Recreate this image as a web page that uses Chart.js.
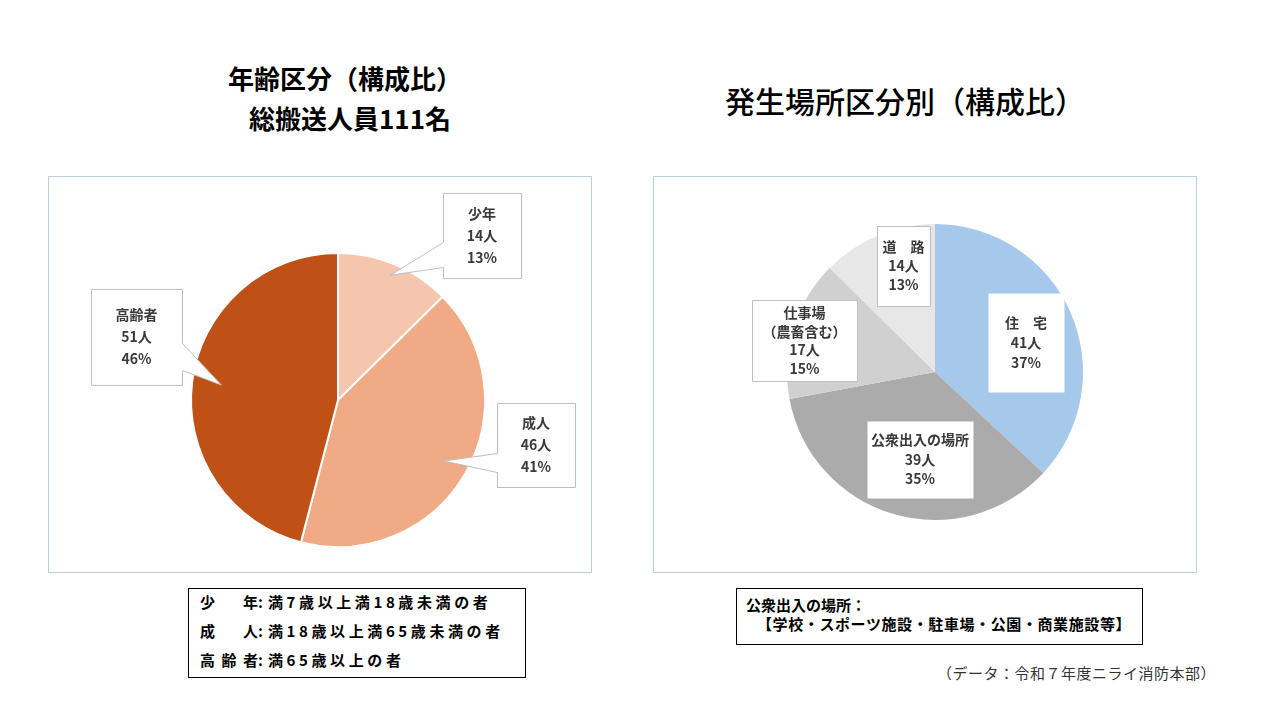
<!DOCTYPE html>
<html lang="ja">
<head>
    <meta charset="UTF-8">
    <title>年齢区分・発生場所区分別（構成比）</title>
    <script src="https://cdn.jsdelivr.net/npm/chart.js"></script>
    <style>
        body { margin: 0; width: 1280px; height: 720px; background: #fff; position: relative; overflow: hidden;
               font-family: "Noto Sans CJK JP", "Noto Sans", sans-serif; color: #000; }
        .abs { position: absolute; white-space: nowrap; }
        .title { font-weight: bold; font-size: 26px; transform: translate(-50%, -50%); }
        .panel { position: absolute; width: 542px; height: 395px; border: 1px solid #bccfdd; }
        .panel canvas { display: block; }
        .note { position: absolute; border: 1px solid #000; box-sizing: border-box; font-weight: bold; font-size: 15px; }
        .note .row { position: absolute; left: 11px; letter-spacing: 3.6px; white-space: nowrap; }
        .note .key { display: inline-block; width: 58px; text-align: justify; text-align-last: justify; letter-spacing: 0; }
        .note .colon { display: inline-block; width: 10px; text-align: left; letter-spacing: 0; }
    </style>
</head>
<body>

    <!-- Titles -->
    <div class="abs title" style="left: 345px; top: 77px;">年齢区分（構成比）</div>
    <div class="abs title" style="left: 350px; top: 117px;">総搬送人員111名</div>
    <div class="abs title" style="left: 905px; top: 100px; font-size: 30px; font-weight: 500;">発生場所区分別（構成比）</div>

    <!-- Chart panels -->
    <div class="panel" style="left: 48px; top: 176px;">
        <canvas id="ageChart" width="542" height="395"></canvas>
    </div>
    <div class="panel" style="left: 653px; top: 176px;">
        <canvas id="placeChart" width="542" height="395"></canvas>
    </div>

    <!-- Notes -->
    <div class="note" style="left: 188px; top: 588px; width: 338px; height: 90px;">
        <div class="row" style="top: 2px;"><span class="key">少 年</span><span class="colon">:</span>満7歳以上満18歳未満の者</div>
        <div class="row" style="top: 31px;"><span class="key">成 人</span><span class="colon">:</span>満18歳以上満65歳未満の者</div>
        <div class="row" style="top: 60px;"><span class="key">高 齢 者</span><span class="colon">:</span>満65歳以上の者</div>
    </div>
    <div class="note" style="left: 736px; top: 588px; width: 407px; height: 57px;">
        <div class="row" style="top: 5px; left: 9px; letter-spacing: 0;">公衆出入の場所：</div>
        <div class="row" style="top: 24px; left: 20px; letter-spacing: 0.6px;">【学校・スポーツ施設・駐車場・公園・商業施設等】</div>
    </div>
    <div class="abs" style="right: 64px; top: 662px; font-size: 15px; color: #333; letter-spacing: 0.5px;">（データ：令和７年度ニライ消防本部）</div>

    <script>
        // Age groups
        const ageLabels = ['少年', '成人', '高齢者'];
        const ageCounts = [14, 46, 51];
        const agePercents = [13, 41, 46];
        const ageColors = ['#f5c6ad', '#f1aa86', '#c05116'];

        // Places of occurrence
        const placeLabels = ['住　宅', '公衆出入の場所', '仕事場\n（農畜含む）', '道　路'];
        const placeCounts = [41, 39, 17, 14];
        const placePercents = [37, 35, 15, 13];
        const placeColors = ['#a5c8eb', '#ababab', '#d0d0d0', '#e7e7e7'];

        // Callout boxes (canvas pixels); side/b1/b2 = where the pointer leaves the box
        const ageBoxes = [
            { x: 394, y: 16, w: 78, h: 85, side: 'left', b1: 65, b2: 90, tip: 0.92, border: true, lh: 22 },
            { x: 448, y: 226, w: 78, h: 84, side: 'left', b1: 276, b2: 295, tip: 0.83, border: true, lh: 22 },
            { x: 42, y: 112, w: 91, h: 96, side: 'right', b1: 166, b2: 193, tip: 0.8, border: true, lh: 22 }
        ];
        const placeBoxes = [
            { x: 334, y: 116, w: 76, h: 99, border: false, lh: 20 },
            { x: 213, y: 244, w: 106, h: 77, border: false, lh: 19.5 },
            { x: 98, y: 123, w: 105, h: 81, border: true, lh: 18.5 },
            { x: 223, y: 49, w: 53, h: 80, border: true, lh: 19 }
        ];

        function calloutText(labels, counts, percents) {
            return labels.map((l, i) => l.split('\n').concat([counts[i] + '人', percents[i] + '%']));
        }

        // Draws white label boxes, with a speech pointer into the slice when requested
        const calloutPlugin = {
            id: 'callouts',
            afterDatasetsDraw(chart, args, opts) {
                const ctx = chart.ctx;
                const meta = chart.getDatasetMeta(0);
                opts.boxes.forEach((b, i) => {
                    const arc = meta.data[i];
                    const p = arc.getProps(['x', 'y', 'startAngle', 'endAngle', 'outerRadius'], true);
                    const x0 = b.x + 0.5, y0 = b.y + 0.5, x1 = b.x + b.w + 0.5, y1 = b.y + b.h + 0.5;
                    ctx.save();
                    ctx.beginPath();
                    if (b.side) {
                        const mid = (p.startAngle + p.endAngle) / 2;
                        const tx = p.x + Math.cos(mid) * p.outerRadius * b.tip;
                        const ty = p.y + Math.sin(mid) * p.outerRadius * b.tip;
                        if (b.side === 'left') {
                            ctx.moveTo(x0, y0); ctx.lineTo(x1, y0); ctx.lineTo(x1, y1); ctx.lineTo(x0, y1);
                            ctx.lineTo(x0, b.b2 + 0.5); ctx.lineTo(tx, ty); ctx.lineTo(x0, b.b1 + 0.5);
                        } else {
                            ctx.moveTo(x0, y0); ctx.lineTo(x1, y0); ctx.lineTo(x1, b.b1 + 0.5); ctx.lineTo(tx, ty);
                            ctx.lineTo(x1, b.b2 + 0.5); ctx.lineTo(x1, y1); ctx.lineTo(x0, y1);
                        }
                    } else {
                        ctx.rect(x0, y0, b.w, b.h);
                    }
                    ctx.closePath();
                    ctx.fillStyle = '#ffffff';
                    ctx.fill();
                    if (b.border) {
                        ctx.strokeStyle = '#bfbfbf';
                        ctx.lineWidth = 1;
                        ctx.stroke();
                    }
                    const lines = opts.texts[i];
                    ctx.fillStyle = '#3a3a3a';
                    ctx.font = 'bold 14px "Noto Sans CJK JP", sans-serif';
                    ctx.textAlign = 'center';
                    ctx.textBaseline = 'middle';
                    const cx = b.x + b.w / 2;
                    const top = b.y + b.h / 2 - (lines.length - 1) * b.lh / 2;
                    lines.forEach((t, k) => ctx.fillText(t, cx, top + k * b.lh));
                    ctx.restore();
                });
            }
        };

        function makePie(id, labels, values, colors, borderWidth, padding, boxes, texts) {
            new Chart(document.getElementById(id), {
                type: 'pie',
                data: {
                    labels: labels,
                    datasets: [{
                        data: values,
                        backgroundColor: colors,
                        borderColor: '#ffffff',
                        borderWidth: borderWidth
                    }]
                },
                options: {
                    responsive: false,
                    animation: false,
                    layout: { padding: padding },
                    plugins: {
                        legend: { display: false },
                        tooltip: { enabled: false },
                        callouts: { boxes: boxes, texts: texts }
                    }
                },
                plugins: [calloutPlugin]
            });
        }

        makePie('ageChart', ageLabels, ageCounts, ageColors, 2,
            { left: 141, right: 105, top: 75, bottom: 24 },
            ageBoxes, calloutText(ageLabels, ageCounts, agePercents));

        makePie('placeChart', placeLabels, placeCounts, placeColors, 0,
            { left: 133, right: 113, top: 47, bottom: 52 },
            placeBoxes, calloutText(placeLabels, placeCounts, placePercents));
    </script>

</body>
</html>
